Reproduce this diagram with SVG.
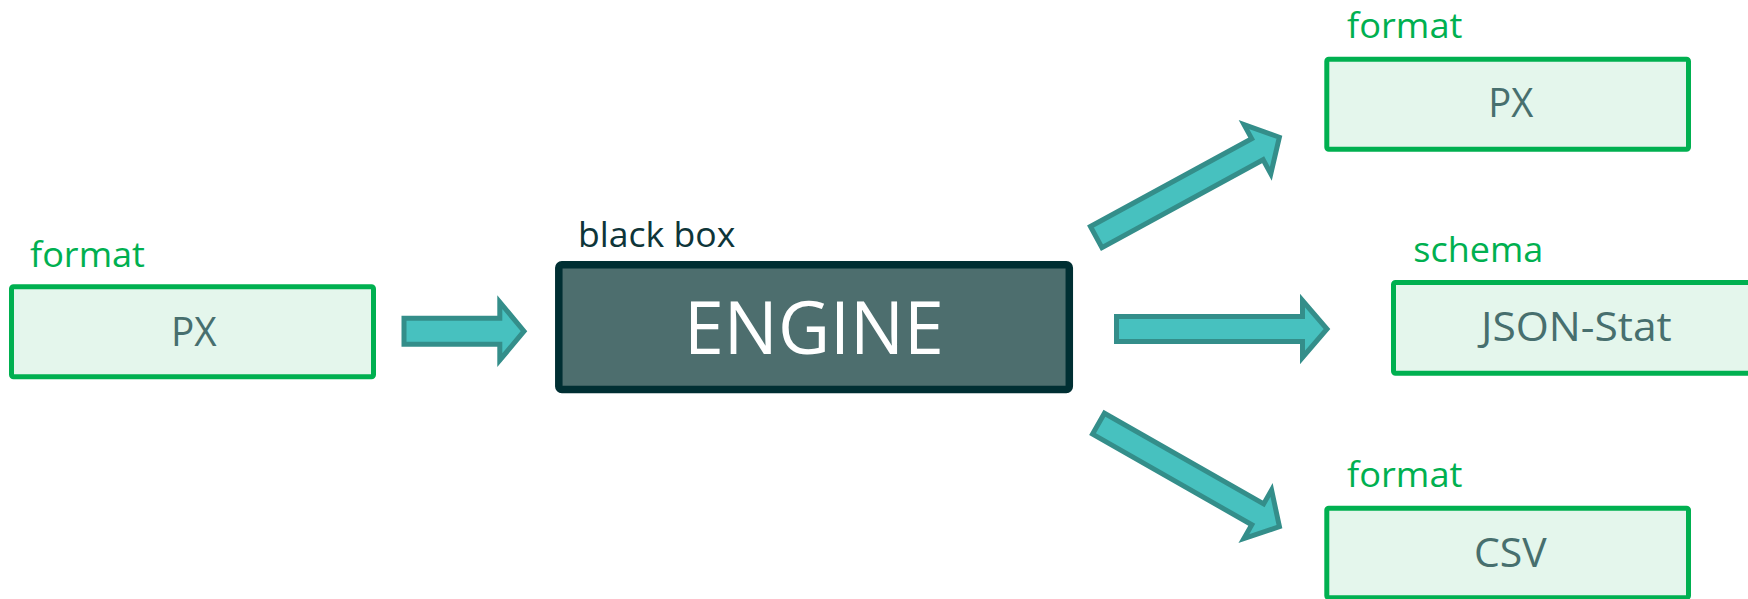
<svg xmlns="http://www.w3.org/2000/svg" width="1748" height="599" viewBox="0 0 1748 599">
  <style>
    .box { fill: #E4F6EC; stroke: #00B050; stroke-width: 5; }
    .engine { fill: #4D6E6E; stroke: #002F33; stroke-width: 7.5; }
    .lbl { font-family: "Open Sans", "Liberation Sans", sans-serif; fill: #00B050; font-size: 34px; }
    .txt { font-family: "Open Sans", "Liberation Sans", sans-serif; fill: #476F6E; font-size: 41px; }
    .bb { font-family: "Open Sans", "Liberation Sans", sans-serif; fill: #0E3539; font-size: 34px; }
    .eng { font-family: "Open Sans", "Liberation Sans", sans-serif; fill: #FFFFFF; font-size: 73px; }
    .arrow { fill: #47C1BF; stroke: #348E8A; stroke-width: 5; stroke-linejoin: miter; }
  </style>
  <rect width="1748" height="599" fill="#FFFFFF"/>

  <g id="connectors">
    <polygon class="arrow" transform="translate(404,331.2)" points="0,-13 95.8,-13 95.8,-29 120,0 95.8,29 95.8,13 0,13"/>
    <polygon class="arrow" transform="translate(1116.5,329)" points="0,-12.5 186,-12.5 186,-28.5 210.5,0 186,28.5 186,12.5 0,12.5"/>
    <polygon class="arrow" transform="translate(1096.2,237.1) rotate(-28.6)" points="0,-12 183.6,-12 183.6,-28 208.6,0 183.6,28 183.6,12 0,12"/>
    <polygon class="arrow" transform="translate(1098.5,423.7) rotate(29.65)" points="0,-12 183.2,-12 183.2,-28 208.2,0 183.2,28 183.2,12 0,12"/>
  </g>

  <g id="node-input-px">
    <text class="lbl" x="30" y="266.7" textLength="115" lengthAdjust="spacingAndGlyphs">format</text>
    <rect class="box" x="11.5" y="286.8" width="362" height="90" rx="2"/>
    <text class="txt" x="171" y="346" textLength="45.6" lengthAdjust="spacingAndGlyphs">PX</text>
  </g>

  <g id="node-engine">
    <text class="bb" x="578" y="246.7" textLength="157.3" lengthAdjust="spacingAndGlyphs">black box</text>
    <rect class="engine" x="558.8" y="264.8" width="510.5" height="124.7" rx="3"/>
    <text class="eng" x="684" y="354" textLength="260" lengthAdjust="spacingAndGlyphs">ENGINE</text>
  </g>

  <g id="node-output-px">
    <text class="lbl" x="1347" y="38.3" textLength="115.5" lengthAdjust="spacingAndGlyphs">format</text>
    <rect class="box" x="1326.8" y="59.2" width="361.7" height="90" rx="2"/>
    <text class="txt" x="1488.3" y="117.3" textLength="45" lengthAdjust="spacingAndGlyphs">PX</text>
  </g>

  <g id="node-output-json">
    <text class="lbl" x="1413.3" y="261.7" textLength="130" lengthAdjust="spacingAndGlyphs">schema</text>
    <rect class="box" x="1393.5" y="282.5" width="362" height="90.7" rx="2"/>
    <text class="txt" x="1481" y="340.7" textLength="190.7" lengthAdjust="spacingAndGlyphs">JSON-Stat</text>
  </g>

  <g id="node-output-csv">
    <text class="lbl" x="1347" y="487.3" textLength="115.5" lengthAdjust="spacingAndGlyphs">format</text>
    <rect class="box" x="1326.8" y="508.2" width="361.7" height="89.5" rx="2"/>
    <text class="txt" x="1474" y="566.7" textLength="72.7" lengthAdjust="spacingAndGlyphs">CSV</text>
  </g>
</svg>
